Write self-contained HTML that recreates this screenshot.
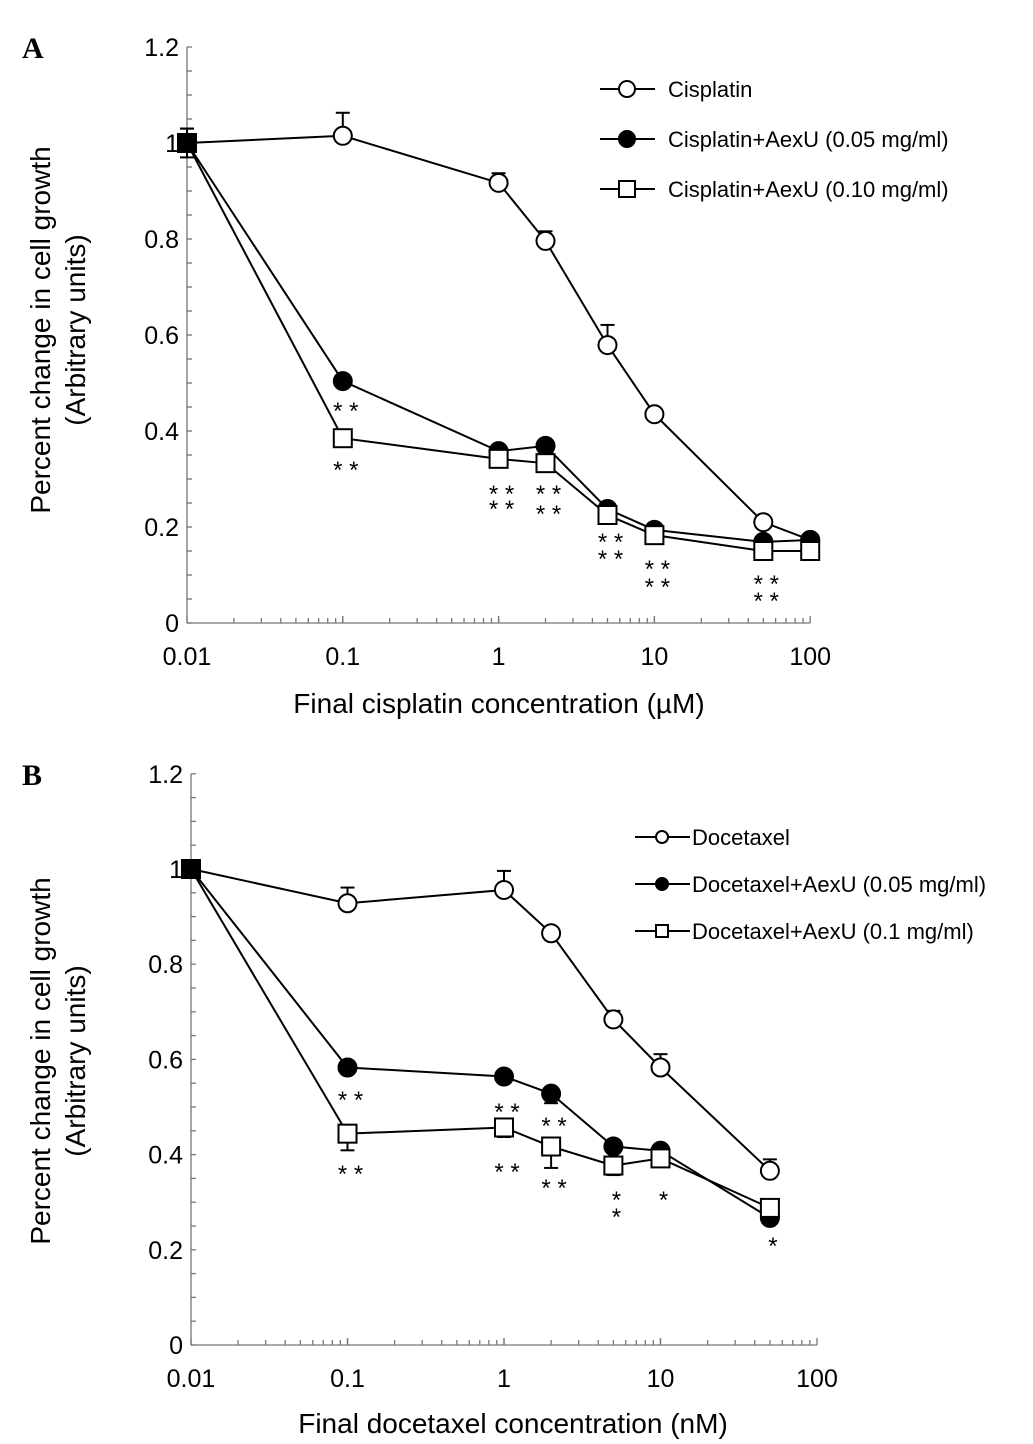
<!DOCTYPE html>
<html><head><meta charset="utf-8"><style>
body{margin:0;background:#fff}
svg{display:block;font-family:"Liberation Sans",Arial,sans-serif}
</style></head><body>
<svg id="fig" width="1033" height="1444" viewBox="0 0 1033 1444">
<text x="22" y="58" font-family="Liberation Serif" font-weight="bold" font-size="30">A</text>
<text x="22" y="785" font-family="Liberation Serif" font-weight="bold" font-size="30">B</text>
</svg>
<script>
// Panel A data
const concA = [0.01, 0.1, 1, 2, 5, 10, 50, 100];
const cisplatin = [1.0, 1.015, 0.917, 0.796, 0.579, 0.435, 0.21, 0.173];
const cisErr = [0.03, 0.048, 0.02, 0.02, 0.042, 0.01, 0, 0];
const cisAex05 = [1.0, 0.504, 0.358, 0.369, 0.2375, 0.194, 0.169, 0.173];
const cisAex05Err = [0.03, 0.01, 0, 0, 0, 0, 0, 0];
const cisAex10 = [1.0, 0.385, 0.342, 0.333, 0.225, 0.183, 0.15, 0.15];
const cisAex10Err = [0.03, 0, 0.012, 0, 0, 0, 0, 0];
// Panel B data
const concB = [0.01, 0.1, 1, 2, 5, 10, 50];
const docetaxel = [1.0, 0.928, 0.956, 0.865, 0.684, 0.583, 0.366];
const docErr = [0, 0.033, 0.04, 0.01, 0.018, 0.028, 0.024];
const docAex05 = [1.0, 0.583, 0.564, 0.528, 0.417, 0.408, 0.267];
const docAex05Err = [0, 0.01, 0, 0.02, 0, 0, 0];
const docAex01 = [1.0, 0.444, 0.457, 0.417, 0.377, 0.392, 0.288];
const docAex01Err = [0, 0.035, 0.02, 0.045, 0.02, 0.01, 0];
const yTicks = [0, 0.2, 0.4, 0.6, 0.8, 1, 1.2];
const yTickLabels = ["0", "0.2", "0.4", "0.6", "0.8", "1", "1.2"];
const xTicks = [0.01, 0.1, 1, 10, 100];
const xTickLabels = ["0.01", "0.1", "1", "10", "100"];

const NS = "http://www.w3.org/2000/svg";
const svg = document.getElementById("fig");
function mk(tag, attrs, parent, text) {
  const e = document.createElementNS(NS, tag);
  for (const k in attrs) e.setAttribute(k, attrs[k]);
  if (text !== undefined) e.textContent = text;
  (parent || svg).appendChild(e);
  return e;
}

function panel(cfg) {
  const g = mk("g", {});
  
  
  const X = v => cfg.x0 + (Math.log10(v) + 2) * cfg.dec;
  const Y = v => cfg.y0 - v * cfg.unit;
  const axis = mk("g", { stroke: "#777", "stroke-width": 1.3 }, g);
  
  
  mk("line", { x1: cfg.x0, y1: Y(0), x2: cfg.x0, y2: Y(1.2) }, axis);
  mk("line", { x1: cfg.x0, y1: Y(0), x2: X(100), y2: Y(0) }, axis);
  for (let v = 0; v <= 1.2001; v += 0.05) mk("line", { x1: cfg.x0, y1: Y(v), x2: cfg.x0 + 5, y2: Y(v) }, axis);
  for (let d = -2; d < 2; d++) for (let m = 1; m <= 10; m++) {
    const v = m * Math.pow(10, d);
    mk("line", { x1: X(v), y1: Y(0), x2: X(v), y2: Y(0) - (m === 1 || m === 10 ? 7 : 5) }, axis);
  }
  yTicks.forEach((v, i) => {
    const t = mk("text", { x: cfg.x0 - 8, y: Y(v) + 9, "text-anchor": "end", "font-size": 25 }, g, yTickLabels[i]);
    
    
  });
  xTicks.forEach((v, i) => {
    const t = mk("text", { x: X(v), y: Y(0) + 42, "text-anchor": "middle", "font-size": 25 }, g, xTickLabels[i]);
    
    
  });
  const xt = mk("text", { x: cfg.xTitleX, y: cfg.xTitleY, "text-anchor": "middle", "font-size": 28 }, g, cfg.xTitle);
  
  
  const yt = mk("text", { transform: `translate(${cfg.yTitleX},${cfg.yTitleY}) rotate(-90)`, "text-anchor": "middle", "font-size": 28 }, g);
  
  
  mk("tspan", { x: 0, dy: 0 }, yt, "Percent change in cell growth");
  mk("tspan", { x: 0, dy: 35 }, yt, "(Arbitrary units)");

  cfg.series.forEach(s => {
    const sg = mk("g", {}, g);
    
    
    const pts = cfg.conc.map((c, i) => X(c) + "," + Y(s.vals[i])).join(" ");
    mk("polyline", { points: pts, fill: "none", stroke: "#000", "stroke-width": 2 }, sg);
    cfg.conc.forEach((c, i) => {
      const e = s.err[i];
      if (e > 0) {
        const dir = s.errDown ? 1 : -1;
        const x = X(c), y1 = Y(s.vals[i]), y2 = Y(s.vals[i] - dir * e);
        mk("line", { x1: x, y1: y1, x2: x, y2: y2, stroke: "#000", "stroke-width": 2 }, sg);
        mk("line", { x1: x - 7, y1: y2, x2: x + 7, y2: y2, stroke: "#000", "stroke-width": 2 }, sg);
      }
    });
    cfg.conc.forEach((c, i) => {
      const m = marker(s.type, X(c), Y(s.vals[i]), 9, sg, s.type === "sq" && i === 0);
      
      
    });
  });

  // legend
  const lg = mk("g", {}, g);
  
  
  cfg.series.forEach((s, i) => {
    const y = cfg.legY + i * cfg.legDy;
    const e = mk("g", {}, lg);
    
    
    mk("line", { x1: cfg.legX, y1: y, x2: cfg.legX + 55, y2: y, stroke: "#000", "stroke-width": 2 }, e);
    marker(s.type, cfg.legX + 27, y, cfg.legR, e, false);
    mk("text", { x: cfg.legX + cfg.legTx, y: y + 8, "font-size": 22 }, e, s.label);
  });
  // significance stars
  const st = mk("g", { "font-size": 24, "text-anchor": "middle" }, g);
  
  
  cfg.stars.forEach(s => mk("text", { x: X(s[0]) + 3, y: s[1] + 5 }, st, s[2]));
}

function marker(type, x, y, r, parent, black) {
  if (type === "sq") return mk("rect", { x: x - r, y: y - r, width: 2 * r, height: 2 * r, fill: black ? "#000" : "#fff", stroke: "#000", "stroke-width": 2 }, parent);
  return mk("circle", { cx: x, cy: y, r: r, fill: type === "fill" ? "#000" : "#fff", stroke: "#000", "stroke-width": 2 }, parent);
}

panel({
  name: "panel-a-chart", x0: 187, y0: 623, unit: 480, dec: 155.8, conc: concA,
  xTitle: "Final cisplatin concentration (\u00b5M)", xTitleX: 499, xTitleY: 713,
  yTitleX: 50, yTitleY: 330,
  legX: 600, legY: 89, legDy: 50, legR: 8, legTx: 68,
  series: [
    { name: "series-cisplatin", type: "open", vals: cisplatin, err: cisErr, label: "Cisplatin" },
    { name: "series-cisplatin-aexu-005", type: "fill", vals: cisAex05, err: cisAex05Err, errDown: true, label: "Cisplatin+AexU (0.05 mg/ml)" },
    { name: "series-cisplatin-aexu-010", type: "sq", vals: cisAex10, err: cisAex10Err, label: "Cisplatin+AexU (0.10 mg/ml)" }
  ],
  stars: [[0.1, 414, "* *"], [0.1, 473, "* *"], [1, 497, "* *"], [1, 512, "* *"], [2, 497, "* *"], [2, 517, "* *"],
          [5, 545, "* *"], [5, 562, "* *"], [10, 572, "* *"], [10, 590, "* *"], [50, 587, "* *"], [50, 604, "* *"]]
});
panel({
  name: "panel-b-chart", x0: 191, y0: 1345, unit: 476, dec: 156.5, conc: concB,
  xTitle: "Final docetaxel concentration (nM)", xTitleX: 513, xTitleY: 1433,
  yTitleX: 50, yTitleY: 1061,
  legX: 635, legY: 837, legDy: 47, legR: 6, legTx: 57,
  series: [
    { name: "series-docetaxel", type: "open", vals: docetaxel, err: docErr, label: "Docetaxel" },
    { name: "series-docetaxel-aexu-005", type: "fill", vals: docAex05, err: docAex05Err, errDown: true, label: "Docetaxel+AexU (0.05 mg/ml)" },
    { name: "series-docetaxel-aexu-01", type: "sq", vals: docAex01, err: docAex01Err, errDown: true, label: "Docetaxel+AexU (0.1 mg/ml)" }
  ],
  stars: [[0.1, 1103, "* *"], [0.1, 1177, "* *"], [1, 1115, "* *"], [1, 1175, "* *"], [2, 1129, "* *"], [2, 1191, "* *"],
          [5, 1203, "*"], [5, 1220, "*"], [10, 1203, "*"], [50, 1249, "*"]]
});
</script>
</body></html>
